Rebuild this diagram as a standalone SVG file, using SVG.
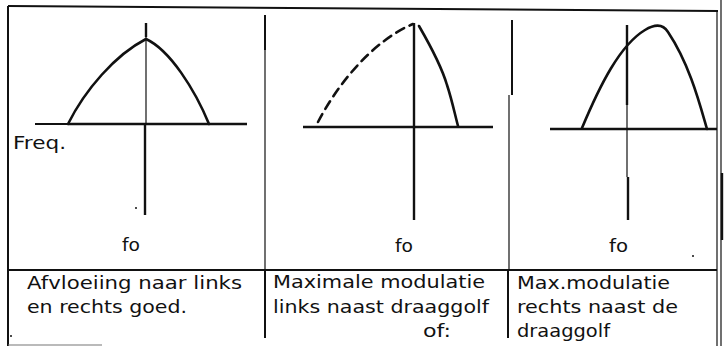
<svg xmlns="http://www.w3.org/2000/svg" width="725" height="346" viewBox="0 0 725 346">
<style>
.ln{stroke:#111;stroke-width:2;fill:none;stroke-linecap:butt}
.thin{stroke:#111;stroke-width:1.2;fill:none}
.cv{stroke:#111;stroke-width:2.6;fill:none;stroke-linecap:round;stroke-linejoin:round}
.ax{stroke:#111;stroke-width:2.4;fill:none}
.t{font-family:"DejaVu Sans","Liberation Sans",sans-serif;font-size:17px;fill:#111}
.lbl{font-family:"DejaVu Sans","Liberation Sans",sans-serif;font-size:18px;fill:#111}
</style>
<rect width="725" height="346" fill="#fff"/>
<g id="frame">
<line class="ln" x1="8" y1="6" x2="718" y2="11"/>
<line class="ln" x1="8" y1="6" x2="8" y2="346"/>
<line class="thin" x1="717" y1="11" x2="717" y2="346"/>
<line class="thin" x1="721" y1="0" x2="721" y2="346"/>
<line class="ax" x1="722" y1="173" x2="722" y2="240"/>
<line class="ln" x1="8" y1="270" x2="717" y2="270"/>
<line class="ln" x1="265" y1="15" x2="265" y2="50"/>
<line class="thin" x1="265" y1="50" x2="265" y2="270"/>
<line class="ln" x1="265" y1="270" x2="265" y2="338"/>
<line class="ln" x1="512" y1="20" x2="512" y2="95"/>
<line class="thin" x1="509" y1="95" x2="509" y2="270"/>
<line class="ln" x1="508" y1="270" x2="508" y2="338"/>
<line x1="8" y1="345" x2="102" y2="345" stroke="#777" stroke-width="1.2"/>
<circle cx="11" cy="336" r="1" fill="#111"/>
</g>
<g id="chart1">
<line class="ln" x1="35" y1="124" x2="68" y2="124" stroke-width="1.5"/>
<line class="ax" x1="68" y1="124" x2="247" y2="124"/>
<line class="ax" x1="146" y1="23" x2="146" y2="37"/>
<line class="thin" x1="146" y1="37" x2="146" y2="124"/>
<line class="ax" x1="145" y1="124" x2="145" y2="215"/>
<path class="cv" d="M68,124 C85,90 115,55 146,39 C170,50 195,90 209,124"/>
<circle cx="136" cy="208" r="1" fill="#111"/>
<text class="lbl" x="13" y="149" textLength="53" lengthAdjust="spacingAndGlyphs">Freq.</text>
<text class="lbl" x="122" y="251" textLength="18" lengthAdjust="spacingAndGlyphs">fo</text>
</g>
<g id="chart2">
<line class="ax" x1="303" y1="127" x2="493" y2="127"/>
<line class="ax" x1="414" y1="23" x2="414" y2="220"/>
<path class="cv" d="M318,122 C340,80 375,40 413,24" stroke-dasharray="9,6" stroke-linecap="butt"/>
<path class="cv" d="M419,26 C430,45 442,68 447,85 C452,100 455,115 458,126"/>
<text class="lbl" x="395" y="252" textLength="18" lengthAdjust="spacingAndGlyphs">fo</text>
</g>
<g id="chart3">
<line class="ax" x1="550" y1="129" x2="717" y2="129"/>
<line class="ax" x1="627" y1="25" x2="627" y2="105"/>
<line class="thin" x1="627" y1="105" x2="627" y2="177"/>
<line class="ax" x1="628" y1="177" x2="628" y2="220"/>
<path class="cv" d="M582,128 C600,85 620,45 645,30 C655,24 663,24 668,32 C690,65 700,105 707,129"/>
<circle cx="693" cy="256" r="1" fill="#111"/>
<text class="lbl" x="609" y="252" textLength="19" lengthAdjust="spacingAndGlyphs">fo</text>
</g>
<g id="caption1">
<text class="t" x="27" y="289" textLength="215" lengthAdjust="spacingAndGlyphs">Afvloeiing naar links</text>
<text class="t" x="27" y="313" textLength="160" lengthAdjust="spacingAndGlyphs">en rechts goed.</text>
</g>
<g id="caption2">
<text class="t" x="273" y="288" textLength="212" lengthAdjust="spacingAndGlyphs">Maximale modulatie</text>
<text class="t" x="273" y="313" textLength="216" lengthAdjust="spacingAndGlyphs">links naast draaggolf</text>
<text class="t" x="423" y="337" textLength="28" lengthAdjust="spacingAndGlyphs">of:</text>
</g>
<g id="caption3">
<text class="t" x="517" y="289" textLength="153" lengthAdjust="spacingAndGlyphs">Max.modulatie</text>
<text class="t" x="517" y="313" textLength="161" lengthAdjust="spacingAndGlyphs">rechts naast de</text>
<text class="t" x="517" y="337" textLength="93" lengthAdjust="spacingAndGlyphs">draaggolf</text>
</g>
</svg>
